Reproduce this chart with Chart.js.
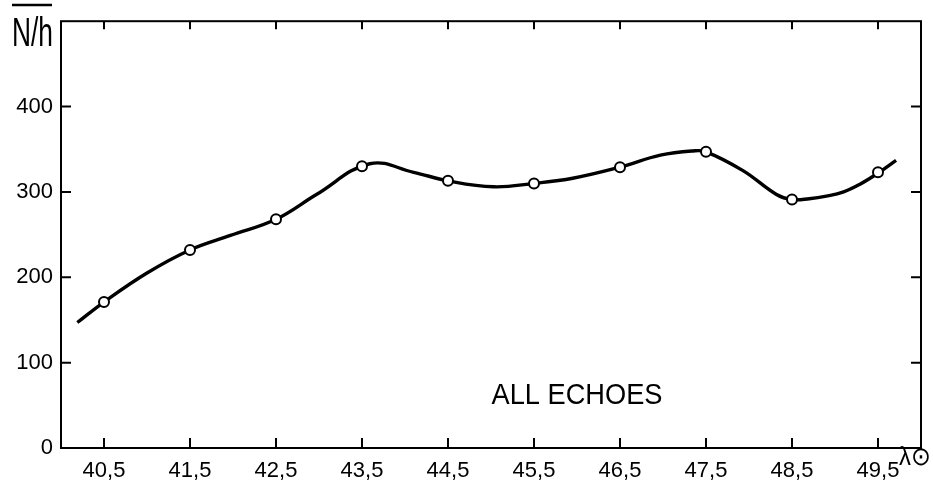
<!DOCTYPE html>
<html>
<head>
<meta charset="utf-8">
<script src="https://cdn.jsdelivr.net/npm/chart.js@4/dist/chart.umd.min.js"></script>
<style>
   body { margin: 0; background: #fff; }
   canvas { display: block; }
</style>
</head>
<body>
<canvas id="echoChart" width="933" height="482"></canvas>
<script>
// solar longitude ticks and hourly rate ticks
const lambdaTicks = [40.5, 41.5, 42.5, 43.5, 44.5, 45.5, 46.5, 47.5, 48.5, 49.5];
const rateTicks = [0, 100, 200, 300, 400];

// observed mean hourly rates (circles)
const lambdaObs = [40.5, 41.5, 42.5, 43.5, 44.5, 45.5, 46.5, 47.5, 48.5, 49.5];
const rateObs = [171, 232, 268, 330, 313, 310, 329, 347, 291, 323];

// hand-drawn smoothing curve through the observations
const curveLambda = [40.19, 40.5, 41.0, 41.5, 41.97, 42.5, 42.97, 43.59, 44.1, 44.5, 45.03, 45.5, 45.95,
   46.5, 46.97, 47.35, 47.5, 47.93, 48.32, 48.5, 48.7, 48.9, 49.1, 49.29, 49.5, 49.71];
const curveRate = [147, 171, 205, 232, 249, 268, 297, 333, 323, 313, 306, 310, 316,
   329, 343, 348, 347, 325, 297, 291, 292, 295, 300, 309, 322, 337];

const FONT = "'Liberation Sans', Arial, sans-serif";

const framePlugin = {
   id: 'frame',
   afterDraw(chart) {
      const { ctx, chartArea: a, scales: { x, y } } = chart;
      ctx.save();
      ctx.strokeStyle = '#000';
      ctx.fillStyle = '#000';
      ctx.lineWidth = 2;
      ctx.strokeRect(a.left, a.top, a.right - a.left, a.bottom - a.top);

      // inward tick marks on all four sides
      ctx.beginPath();
      lambdaTicks.forEach(v => {
         const px = x.getPixelForValue(v);
         ctx.moveTo(px, a.bottom);
         ctx.lineTo(px, a.bottom - 10);
         ctx.moveTo(px, a.top);
         ctx.lineTo(px, a.top + 8);
      });
      rateTicks.slice(1).forEach(v => {
         const py = y.getPixelForValue(v);
         ctx.moveTo(a.left, py);
         ctx.lineTo(a.left + 10, py);
         ctx.moveTo(a.right, py);
         ctx.lineTo(a.right - 10, py);
      });
      ctx.stroke();

      // y axis title with overline
      ctx.font = '40px ' + FONT;
      ctx.textAlign = 'left';
      ctx.textBaseline = 'alphabetic';
      ctx.fillText('N/h', 12, 46, 41);
      ctx.lineWidth = 2.5;
      ctx.beginPath();
      ctx.moveTo(12, 5);
      ctx.lineTo(52, 5);
      ctx.stroke();

      // x axis symbol
      ctx.font = '26px ' + FONT;
      ctx.fillText('λ⊙', 899, 465, 32);

      // caption inside the plot
      ctx.font = '29px ' + FONT;
      ctx.textAlign = 'center';
      ctx.textBaseline = 'middle';
      ctx.fillText('ALL ECHOES', x.getPixelForValue(46.0), y.getPixelForValue(61), 171);
      ctx.restore();
   }
};

new Chart(document.getElementById('echoChart'), {
   type: 'line',
   data: {
      datasets: [{
         label: 'Observed',
         data: lambdaObs.map((v, i) => ({ x: v, y: rateObs[i] })),
         showLine: false,
         pointRadius: 5,
         pointBorderWidth: 2,
         pointBackgroundColor: '#fff',
         pointBorderColor: '#000',
         order: 0
      }, {
         label: 'Curve',
         data: curveLambda.map((v, i) => ({ x: v, y: curveRate[i] })),
         borderColor: '#000',
         borderWidth: 3.4,
         pointRadius: 0,
         tension: 0.4,
         order: 1
      }]
   },
   options: {
      responsive: false,
      animation: false,
      events: [],
      layout: { padding: { top: 21, right: 12, left: 0, bottom: 0 } },
      plugins: {
         legend: { display: false },
         tooltip: { enabled: false }
      },
      scales: {
         x: {
            type: 'linear',
            min: 40,
            max: 50,
            afterBuildTicks(scale) {
               scale.ticks = lambdaTicks.map(v => ({ value: v }));
            },
            afterFit(scale) { scale.height = 34; },
            grid: { drawOnChartArea: false, drawTicks: false },
            border: { display: false },
            ticks: {
               padding: 10,
               color: '#000',
               maxRotation: 0,
               autoSkip: false,
               font: { family: FONT, size: 22 },
               callback: v => v.toFixed(1).replace('.', ',')
            }
         },
         y: {
            min: 0,
            max: 500,
            afterBuildTicks(scale) {
               scale.ticks = rateTicks.map(v => ({ value: v }));
            },
            afterFit(scale) { scale.width = 61; },
            grid: { drawOnChartArea: false, drawTicks: false },
            border: { display: false },
            ticks: {
               padding: 8,
               color: '#000',
               font: { family: FONT, size: 22 }
            }
         }
      }
   },
   plugins: [framePlugin]
});
</script>
</body>
</html>
